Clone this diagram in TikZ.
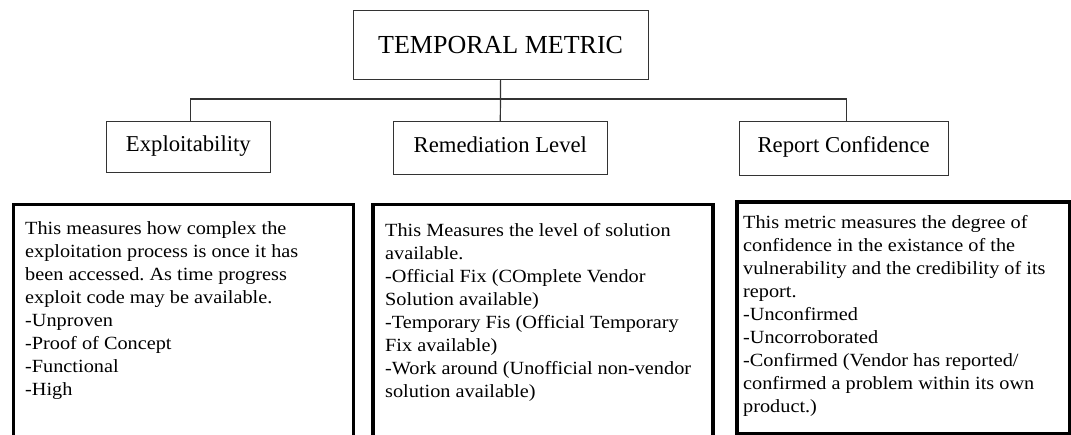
\documentclass[tikz,border=0pt]{standalone}
\usepackage{fontspec}
\setmainfont{Liberation Serif}
\newfontfamily\bodyfont{Liberation Serif}[FakeStretch=1.09]
\frenchspacing
\begin{document}
\begin{tikzpicture}[x=1pt,y=-1pt,
  headbox/.style={draw=black!80, line width=1.2pt, rectangle, inner sep=0pt,
    anchor=north west, font=\fontsize{26pt}{30pt}\selectfont, text height=20pt, text depth=3pt},
  catbox/.style={draw=black!80, line width=1.2pt, rectangle, inner sep=0pt,
    anchor=north west, font=\fontsize{22.7pt}{26pt}\selectfont, text height=14pt, text depth=6pt},
  bigbox/.style={draw=black, line width=3.5pt, rectangle, inner sep=0pt, anchor=north west},
  bodytext/.style={inner sep=0pt, anchor=base west},
  link/.style={draw=black!80, line width=1.2pt}
]
\useasboundingbox (0,0) rectangle (1071,434);
\fill[white] (0,0) rectangle (1071,434);

% header
\node[headbox, minimum width=295pt, minimum height=69pt] (tm) at (352.5,9.5) {TEMPORAL METRIC};

% categories
\node[catbox, minimum width=164.5pt, minimum height=51pt] (expl) at (105.5,121) {Exploitability};
\node[catbox, minimum width=214pt, minimum height=53pt] (rem) at (392.7,121) {Remediation Level};
\node[catbox, minimum width=209pt, minimum height=54pt] (rep) at (738.5,121) {Report Confidence};

% connectors
\coordinate (bus) at (500,99);
\draw[link] (tm.south) -- (rem.north);
\draw[link] ([xshift=2.5pt]expl.north) |- (bus) -| ([xshift=3pt]rep.north);

% description boxes
\node[bigbox, minimum width=340pt, minimum height=250pt] (b1) at (11.5,202.5) {};
\node[bigbox, minimum width=340pt, minimum height=250pt] (b2) at (371,202.5) {};
\node[bigbox, line width=4pt, minimum width=333.5pt, minimum height=232.5pt] (b3) at (734.5,199.5) {};

\node[bodytext] (t1) at (25,234) {\parbox[t]{320pt}{\bodyfont\fontsize{18.6pt}{23pt}\selectfont
This measures how complex the\\
exploitation process is once it has\\
been accessed. As time progress\\
exploit code may be available.\\
-Unproven\\
-Proof of Concept\\
-Functional\\
-High}};

\node[bodytext] (t2) at (385,236.5) {\parbox[t]{320pt}{\bodyfont\fontsize{18.6pt}{23pt}\selectfont
This Measures the level of solution\\
available.\\
-Official Fix (COmplete Vendor\\
Solution available)\\
-Temporary Fis (Official Temporary\\
Fix available)\\
-Work around (Unofficial non-vendor\\
solution available)}};

\node[bodytext] (t3) at (743,228.3) {\parbox[t]{320pt}{\bodyfont\fontsize{18.6pt}{23pt}\selectfont
This metric measures the degree of\\
confidence in the existance of the\\
vulnerability and the credibility of its\\
report.\\
-Unconfirmed\\
-Uncorroborated\\
-Confirmed (Vendor has reported/\\
confirmed a problem within its own\\
product.)}};
\end{tikzpicture}
\end{document}
